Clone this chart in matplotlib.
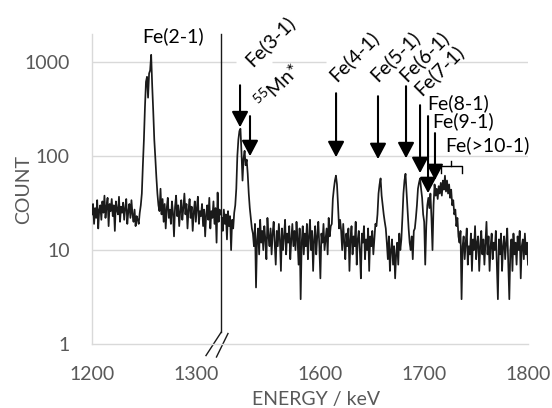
import numpy as np
import matplotlib
matplotlib.use("Agg")
import matplotlib.pyplot as plt
from matplotlib.patches import ArrowStyle

plt.rcParams['font.family'] = ['Lato', 'DejaVu Sans']
plt.rcParams['mathtext.default'] = 'regular'

# ---------------- data (1 keV channels) ----------------
left_start = 1200   # keV, first channel of the left segment
left_counts = [
    24, 31, 19, 28, 22, 34, 17, 27, 30, 21,
    33, 25, 38, 22, 29, 36, 18, 31, 26, 35,
    23, 30, 16, 33, 27, 24, 37, 20, 29, 25,
    32, 21, 28, 35, 19, 26, 31, 22, 34, 24,
    20, 27, 18, 23, 21, 19, 25, 30,
    40, 80, 150, 330, 620, 700, 420, 760, 820, 1200, 560, 300, 150, 96, 60, 40, 30, 26,
    45, 24, 35, 20, 31, 17, 28, 36, 22, 27,
    19, 33, 25, 14, 29, 38, 23, 30, 18, 26,
    34, 21, 28, 40, 24, 31, 17, 27, 35, 22,
    29, 16, 25, 33, 20, 28, 37, 19, 26, 23,
    31, 18, 27, 14, 24, 30, 21, 36, 17, 26,
    22, 33, 19, 28, 12, 41, 20, 27, 24,
]
right_start = 1505  # keV, first channel of the right segment
right_counts = [
    22, 16, 27, 19, 24, 13, 26, 18, 23, 10, 21, 17, 25, 30,
    45, 100, 150, 185, 196, 110, 55, 95, 114, 80, 92, 65, 40, 28, 22, 17,
    15, 11, 19, 4, 13, 17, 9, 21, 12, 16,
    10, 18, 13, 8, 22, 14, 11, 17, 9, 15,
    20, 12, 7, 16, 11, 19, 13, 6, 17, 10,
    14, 21, 9, 15, 12, 18, 8, 13, 19, 11,
    16, 10, 20, 13, 7, 17, 3, 12, 18, 9,
    15, 11, 19, 8, 14, 21, 10, 16, 6, 13,
    18, 9, 14, 20, 11, 5, 15, 12, 19, 10,
    13, 17, 9, 22, 14, 18,
    19, 35, 45, 55, 62, 50, 30, 17, 21,
    16, 10, 19, 12, 8, 15, 11, 17, 6, 13,
    18, 9, 14, 11, 20, 7, 13, 16, 10, 5,
    15, 12, 18, 8, 13, 10, 17, 6, 14, 11,
    16, 9, 13, 19,
    18, 24, 40, 50, 58, 38, 30, 24, 20, 17,
    12, 8, 14, 6, 10, 13, 7, 11, 5, 9, 12, 7, 15, 10,
    13, 22, 40, 55, 65, 42, 26, 17, 12, 10, 14, 8, 16,
    17, 22, 30, 45, 52, 58, 45, 36, 24, 20,
    7, 18, 30, 36, 28, 40, 22, 10, 30, 50,
    38, 45, 35, 48, 40, 52, 38, 55, 44, 62,
    42, 55, 40, 50, 36, 44, 30, 34, 24, 27,
    18, 22, 14, 12, 16, 3, 11,
    14, 8, 12, 17, 7, 11, 9, 15, 6, 13,
    10, 18, 8, 12, 14, 6, 11, 16, 9, 13,
    7, 12, 20, 9, 14, 6, 11, 15, 8, 12,
    10, 16, 7, 3, 13, 9, 15, 6, 11, 14,
    8, 12, 17, 7, 3, 10, 13, 6, 15, 9,
    12, 7, 14, 10, 16, 5, 11, 13, 8, 15,
    9, 12, 7,
]

gap_kev = 180          # energy range cut out by the axis break
break_pos = 1324.5     # break position on the (compressed) axis

x_tick_energies = [1200, 1300, 1600, 1700, 1800]
x_tick_labels = ['1200', '1300', '1600', '1700', '1800']
y_tick_values = [1, 10, 100, 1000]
y_tick_labels = ['1', '10', '100', '1000']

# arrows: energy, count at arrow tail, count at arrow tip
arrow_energy = [1522.6, 1532.2, 1615.1, 1655.5, 1682.5, 1696.0, 1703.7, 1710.4]
arrow_tail = [569, 267, 468, 435, 556, 349, 267, 176]
arrow_tip = [203, 100, 97.5, 93, 95, 66, 40.4, 55.6]

# rotated labels
rot_labels = ['Fe(3-1)', '$^{55}$Mn*', 'Fe(4-1)', 'Fe(5-1)', 'Fe(6-1)', 'Fe(7-1)']
rot_energy = [1530.3, 1539.9, 1611.2, 1650.7, 1678.7, 1693.1]
rot_count = [976, 349, 692, 676, 692, 480]

# horizontal labels
hor_labels = ['Fe(8-1)', 'Fe(9-1)', 'Fe(>10-1)']
hor_energy = [1702.7, 1707.5, 1720.1]
hor_count = [366, 233, 131]

# bracket over the Fe(>10-1) region
bracket_energy = [1716.2, 1726.0, 1736.4]
bracket_count = [66.4, 78.3, 88.5]


def to_axis(e):
    e = np.asarray(e, dtype=float)
    return np.where(e < 1400, e, e - gap_kev)


# ---------------- figure ----------------
fig = plt.figure(figsize=(5.52, 4.08), dpi=100)
ax = fig.add_axes([92 / 552, 1 - 344 / 408, 436 / 552, 310 / 408])

grid_c = '#d9d9d9'
text_c = '#595959'

left_e = left_start + np.arange(len(left_counts))
right_e = right_start + np.arange(len(right_counts))
ax.plot(to_axis(left_e), left_counts, color='#1a1a1a', lw=1.25, zorder=3)
ax.plot(to_axis(right_e), right_counts, color='#1a1a1a', lw=1.25, zorder=3)

ax.set_yscale('log')
ax.set_ylim(1, 2000)
ax.set_xlim(1200, 1620)

# gridlines (the 1000 line is hidden behind label boxes in places)
ax.hlines([1000, 1000, 1000], [1200, 1373.4, 1541.0], [1338.7, 1425.4, 1620],
          color=grid_c, lw=1.0, zorder=1)
ax.hlines([10, 100], 1200, 1620, color=grid_c, lw=1.0, zorder=1)

for s in ['top', 'right']:
    ax.spines[s].set_visible(False)
ax.spines['left'].set_color(grid_c)
ax.spines['bottom'].set_color(grid_c)
ax.spines['left'].set_linewidth(1.0)
ax.spines['bottom'].set_linewidth(1.0)

ax.set_xticks(to_axis(x_tick_energies))
ax.set_xticklabels(x_tick_labels)
ax.set_yticks(y_tick_values)
ax.set_yticklabels(y_tick_labels)
ax.yaxis.set_minor_locator(matplotlib.ticker.NullLocator())
ax.tick_params(axis='both', length=0, labelsize=14, colors=text_c)
ax.tick_params(axis='x', pad=16)
ax.tick_params(axis='y', pad=16)

fig.text(316 / 552, 1 - 400 / 408, 'ENERGY / keV', ha='center', va='center',
         fontsize=14, color=text_c)
fig.text(24 / 552, 1 - 190 / 408, 'COUNT', ha='center', va='center',
         rotation=90, fontsize=14, color=text_c)

# break line and // marks
ax.plot([break_pos, break_pos], [2000, 1.33], color='#1a1a1a', lw=1.0,
        clip_on=False, zorder=4)
ax.plot([1309.8, 1324.3], [0.753, 1.328], color='#1a1a1a', lw=1.0, clip_on=False)
ax.plot([1319.9, 1331.0], [0.727, 1.293], color='#1a1a1a', lw=1.0, clip_on=False)

# annotations
ax.text(1278, 1890, 'Fe(2-1)', ha='center', va='center', fontsize=14, color='black')

astyle = ArrowStyle('-|>', head_length=0.95, head_width=0.5)
for e, t0, t1 in zip(arrow_energy, arrow_tail, arrow_tip):
    x = float(to_axis(e))
    ax.annotate('', xy=(x, t1), xytext=(x, t0),
                arrowprops=dict(arrowstyle=astyle, mutation_scale=10, lw=1.5,
                                color='black', shrinkA=0, shrinkB=0), zorder=5)

for lab, e, c in zip(rot_labels, rot_energy, rot_count):
    ax.text(float(to_axis(e)), c, lab, rotation=45, rotation_mode='anchor',
            ha='left', va='center', fontsize=14, color='black', zorder=6)

for lab, e, c in zip(hor_labels, hor_energy, hor_count):
    ax.text(float(to_axis(e)), c, lab, ha='left', va='center', fontsize=14,
            color='black', zorder=6)

bx = to_axis(bracket_energy)
ax.plot([bx[0], bx[0], bx[2], bx[2]],
        [bracket_count[0], bracket_count[1], bracket_count[1], bracket_count[0]],
        color='black', lw=1.0, zorder=5)
ax.plot([bx[1], bx[1]], [bracket_count[1], bracket_count[2]], color='black', lw=1.0, zorder=5)

fig.savefig('out.png', dpi=100)
